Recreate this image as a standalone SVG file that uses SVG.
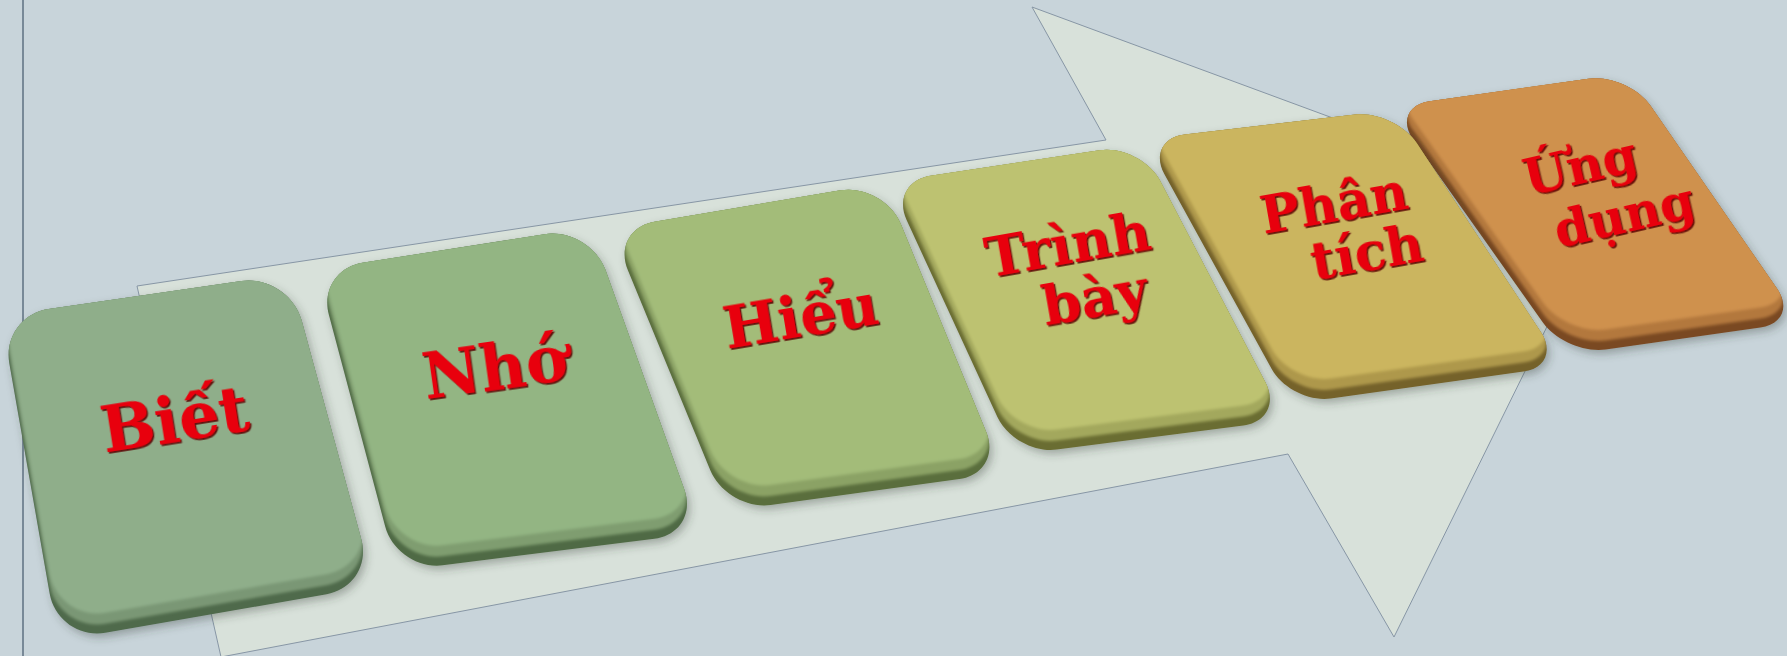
<svg xmlns="http://www.w3.org/2000/svg" xmlns:xlink="http://www.w3.org/1999/xlink" width="1787" height="656" viewBox="0 0 1787 656">
<style>
.lbl{font-family:"DejaVu Serif","Liberation Serif",serif;font-weight:bold;fill:#e8000b;text-anchor:middle;filter:url(#emb)}
.soft{filter:url(#soft)}
</style>
<defs>
<filter id="emb" x="-10%" y="-10%" width="130%" height="140%"><feDropShadow dx="1.3" dy="1.8" stdDeviation="0.6" flood-color="#5a0000" flood-opacity="0.9"/></filter>
<filter id="soft" x="-5%" y="-5%" width="110%" height="110%"><feGaussianBlur stdDeviation="1.6"/></filter>
<filter id="shd" x="-10%" y="-10%" width="125%" height="130%"><feDropShadow dx="3" dy="4" stdDeviation="4" flood-color="#303a30" flood-opacity="0.35"/></filter>
<path id="s1" d="M 48.5 309.1 L 241.5 280.9 C 267.6 277.1 294.7 294.8 301.6 320.3 L 361.4 539.7 C 368.3 565.2 352.7 589.7 326.7 594.2 L 105.3 632.8 C 79.3 637.3 54.3 619.7 49.7 593.7 L 9.3 363.3 C 4.7 337.3 22.4 312.9 48.5 309.1 Z"/>
<path id="s2" d="M 362.4 262.8 L 544.6 234.2 C 569.6 230.2 597.0 246.5 605.6 270.3 L 684.4 489.7 C 693.0 513.5 679.5 535.6 654.4 538.7 L 442.6 565.3 C 417.5 568.4 391.7 551.0 385.2 526.5 L 328.8 314.5 C 322.3 290.0 337.4 266.8 362.4 262.8 Z"/>
<path id="s3" d="M 654.4 221.7 L 840.6 190.3 C 864.5 186.3 891.5 201.3 900.7 223.7 L 986.3 432.3 C 995.5 454.7 983.4 475.7 959.4 479.0 L 770.6 505.0 C 746.6 508.3 719.5 492.7 710.3 470.3 L 627.7 269.7 C 618.5 247.3 630.5 225.7 654.4 221.7 Z"/>
<path id="s4" d="M 930.5 175.7 L 1099.5 150.3 C 1122.3 146.8 1149.7 160.8 1160.4 181.2 L 1265.6 382.8 C 1276.3 403.2 1266.3 422.4 1243.4 425.4 L 1056.7 449.6 C 1033.7 452.6 1007.1 437.8 997.4 416.9 L 906.6 220.1 C 896.9 199.2 907.7 179.2 930.5 175.7 Z"/>
<path id="s5" d="M 1184.7 134.4 L 1355.3 114.6 C 1377.1 112.1 1404.9 125.1 1417.0 143.4 L 1541.1 332.6 C 1553.1 351.0 1545.2 368.5 1523.4 371.5 L 1330.6 398.5 C 1308.8 401.5 1282.3 388.2 1271.7 369.0 L 1164.3 174.0 C 1153.7 154.8 1162.9 136.9 1184.7 134.4 Z"/>
<path id="s6" d="M 1429.6 101.3 L 1588.4 78.7 C 1610.2 75.5 1638.2 87.8 1650.7 105.9 L 1777.3 289.1 C 1789.8 307.2 1782.2 324.5 1760.4 327.6 L 1605.6 349.4 C 1583.8 352.5 1555.6 340.3 1542.9 322.4 L 1413.2 139.6 C 1400.4 121.7 1407.8 104.5 1429.6 101.3 Z"/>
<clipPath id="c1"><use xlink:href="#s1"/></clipPath>
<clipPath id="c2"><use xlink:href="#s2"/></clipPath>
<clipPath id="c3"><use xlink:href="#s3"/></clipPath>
<clipPath id="c4"><use xlink:href="#s4"/></clipPath>
<clipPath id="c5"><use xlink:href="#s5"/></clipPath>
<clipPath id="c6"><use xlink:href="#s6"/></clipPath>
</defs>

<rect x="0" y="0" width="1787" height="656" fill="#c8d4da"/>
<line x1="23" y1="0" x2="23" y2="656" stroke="#5e7180" stroke-width="1.5"/>

<g id="arrow">
<path d="M 137 286 L 1106 140 L 1032 7 L 1601 217 L 1394 637 L 1288 454 L 221 657 Z" fill="#d8e1da" stroke="#8796a5" stroke-width="1"/>
</g>

<g id="key-ung-dung">
<use xlink:href="#s6" fill="#7a4a22" filter="url(#shd)"/>
<g clip-path="url(#c6)"><use xlink:href="#s6" transform="translate(0,-9)" fill="#b3783c" class="soft"/><use xlink:href="#s6" transform="translate(0,-20)" fill="#cf914e" class="soft"/></g>
<text class="lbl" font-size="50" transform="rotate(-13 1584 183)" x="1584" y="183">Ứng</text>
<text class="lbl" font-size="50" transform="rotate(-13 1628 232)" x="1628" y="232">dụng</text>
</g>

<g id="key-phan-tich">
<use xlink:href="#s5" fill="#74622a" filter="url(#shd)"/>
<g clip-path="url(#c5)"><use xlink:href="#s5" transform="translate(0,-9)" fill="#ae984b" class="soft"/><use xlink:href="#s5" transform="translate(0,-20)" fill="#cbb55e" class="soft"/></g>
<text class="lbl" font-size="52" transform="rotate(-10 1337 221)" x="1337" y="221">Phân</text>
<text class="lbl" font-size="52" transform="rotate(-10 1370 270)" x="1370" y="270">tích</text>
</g>

<g id="key-trinh-bay">
<use xlink:href="#s4" fill="#6b6d33" filter="url(#shd)"/>
<g clip-path="url(#c4)"><use xlink:href="#s4" transform="translate(0,-9)" fill="#a3a85d" class="soft"/><use xlink:href="#s4" transform="translate(0,-20)" fill="#bdc271" class="soft"/></g>
<text class="lbl" font-size="55" transform="rotate(-10 1071 263)" x="1071" y="263">Trình</text>
<text class="lbl" font-size="55" transform="rotate(-10 1098 316)" x="1098" y="316">bày</text>
</g>

<g id="key-hieu">
<use xlink:href="#s3" fill="#5a6e3c" filter="url(#shd)"/>
<g clip-path="url(#c3)"><use xlink:href="#s3" transform="translate(0,-9)" fill="#8ba265" class="soft"/><use xlink:href="#s3" transform="translate(0,-20)" fill="#a3bc79" class="soft"/></g>
<text class="lbl" font-size="58" transform="rotate(-9.5 804 336)" x="804" y="336">Hiểu</text>
</g>

<g id="key-nho">
<use xlink:href="#s2" fill="#506b45" filter="url(#shd)"/>
<g clip-path="url(#c2)"><use xlink:href="#s2" transform="translate(0,-9)" fill="#7f9d6f" class="soft"/><use xlink:href="#s2" transform="translate(0,-20)" fill="#93b583" class="soft"/></g>
<text class="lbl" font-size="63" transform="rotate(-8 498 389)" x="498" y="389">Nhớ</text>
</g>

<g id="key-biet">
<use xlink:href="#s1" fill="#4f6a4c" filter="url(#shd)"/>
<g clip-path="url(#c1)"><use xlink:href="#s1" transform="translate(0,-9)" fill="#7a9775" class="soft"/><use xlink:href="#s1" transform="translate(0,-20)" fill="#8fae8a" class="soft"/></g>
<text class="lbl" font-size="64" transform="rotate(-9 178 441)" x="178" y="441">Biết</text>
</g>
</svg>
